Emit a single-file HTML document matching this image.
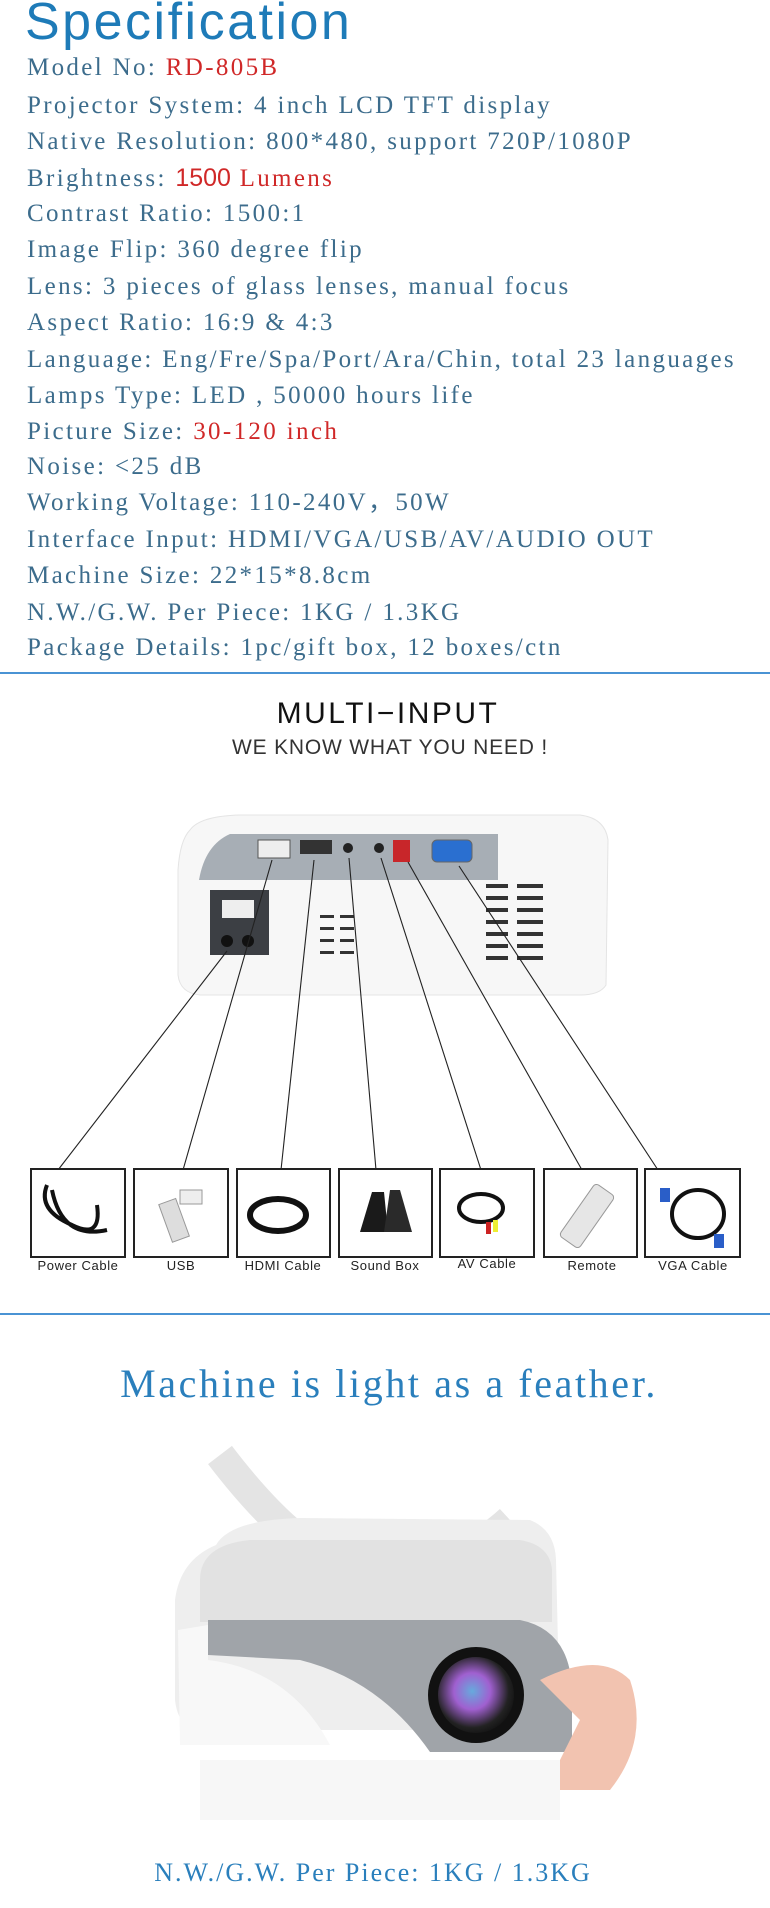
<!DOCTYPE html>
<html><head><meta charset="utf-8"><style>
*{margin:0;padding:0;box-sizing:border-box}
body{width:770px;height:1908px;background:#fff;position:relative;overflow:hidden;font-family:"Liberation Serif",serif}
.t{position:absolute;white-space:nowrap}
.spec{left:27px;font-size:25px;letter-spacing:2.35px;color:#3c6c8c;line-height:28px}
.r{color:#d02828}
.box{position:absolute;top:1168px;height:90px;border:2px solid #222;background:#fff}
.lbl{position:absolute;top:1258px;font-family:"Liberation Sans",sans-serif;font-size:13px;color:#222;letter-spacing:0.6px;text-align:center;width:110px}
</style></head><body>
<div class="t" style="left:25px;top:-8px;font-family:'Liberation Sans',sans-serif;font-size:52px;color:#1e7bb8;letter-spacing:2.5px">Specification</div>
<div class="t spec" style="top:54px">Model No: <span class="r">RD-805B</span></div>
<div class="t spec" style="top:92px">Projector System: 4 inch LCD TFT display</div>
<div class="t spec" style="top:128px">Native Resolution: 800*480, support 720P/1080P</div>
<div class="t spec" style="top:164px">Brightness: <span class="r" style="font-family:'Liberation Sans',sans-serif;letter-spacing:0">1500</span><span class="r"> Lumens</span></div>
<div class="t spec" style="top:200px">Contrast Ratio: 1500:1</div>
<div class="t spec" style="top:236px">Image Flip: 360 degree flip</div>
<div class="t spec" style="top:273px">Lens: 3 pieces of glass lenses, manual focus</div>
<div class="t spec" style="top:309px">Aspect Ratio: 16:9 &amp; 4:3</div>
<div class="t spec" style="top:346px">Language: Eng/Fre/Spa/Port/Ara/Chin, total 23 languages</div>
<div class="t spec" style="top:382px">Lamps Type: LED , 50000 hours life</div>
<div class="t spec" style="top:418px">Picture Size: <span class="r">30-120 inch</span></div>
<div class="t spec" style="top:453px">Noise: &lt;25 dB</div>
<div class="t spec" style="top:489px">Working Voltage: 110-240V，50W</div>
<div class="t spec" style="top:526px">Interface Input: HDMI/VGA/USB/AV/AUDIO OUT</div>
<div class="t spec" style="top:562px">Machine Size: 22*15*8.8cm</div>
<div class="t spec" style="top:599px">N.W./G.W. Per Piece: 1KG / 1.3KG</div>
<div class="t spec" style="top:634px">Package Details: 1pc/gift box, 12 boxes/ctn</div>
<div style="position:absolute;left:0;top:672px;width:770px;height:2px;background:#4a93d4"></div>

<div class="t" style="left:0;width:776px;text-align:center;top:697px;font-family:'Liberation Sans',sans-serif;font-size:30px;letter-spacing:2.5px;color:#111">MULTI−INPUT</div>
<div class="t" style="left:0;width:780px;text-align:center;top:736px;font-family:'Liberation Sans',sans-serif;font-size:21px;letter-spacing:0.8px;color:#333">WE KNOW WHAT YOU NEED !</div>

<svg style="position:absolute;left:0;top:800px" width="770" height="380" viewBox="0 800 770 380">
<path d="M190 830 Q200 816 240 815 L580 815 Q605 818 608 840 L606 985 Q600 995 580 995 L200 995 Q180 993 178 975 L178 870 Q180 840 190 830Z" fill="#f7f7f7" stroke="#e4e4e4"/>
<path d="M230 834 L498 834 L498 880 L199 880 Q205 845 230 834Z" fill="#a7aeb5"/>
<rect x="258" y="840" width="32" height="18" fill="#eee" stroke="#555"/>
<rect x="300" y="840" width="32" height="14" fill="#333"/>
<circle cx="348" cy="848" r="5" fill="#222"/>
<circle cx="379" cy="848" r="5" fill="#222"/>
<rect x="393" y="840" width="17" height="22" fill="#c8262a"/>
<rect x="432" y="840" width="40" height="22" rx="5" fill="#2a6fd0" stroke="#666"/>
<rect x="210" y="890" width="59" height="65" fill="#3c3f44"/>
<rect x="222" y="900" width="32" height="18" fill="#eee"/>
<circle cx="227" cy="941" r="6" fill="#111"/><circle cx="248" cy="941" r="6" fill="#111"/>
<g fill="#333">
<rect x="486" y="884" width="22" height="4"/><rect x="517" y="884" width="26" height="4"/>
<rect x="486" y="896" width="22" height="4"/><rect x="517" y="896" width="26" height="4"/>
<rect x="486" y="908" width="22" height="4"/><rect x="517" y="908" width="26" height="4"/>
<rect x="486" y="920" width="22" height="4"/><rect x="517" y="920" width="26" height="4"/>
<rect x="486" y="932" width="22" height="4"/><rect x="517" y="932" width="26" height="4"/>
<rect x="486" y="944" width="22" height="4"/><rect x="517" y="944" width="26" height="4"/>
<rect x="486" y="956" width="22" height="4"/><rect x="517" y="956" width="26" height="4"/>
<rect x="320" y="915" width="14" height="3"/><rect x="340" y="915" width="14" height="3"/>
<rect x="320" y="927" width="14" height="3"/><rect x="340" y="927" width="14" height="3"/>
<rect x="320" y="939" width="14" height="3"/><rect x="340" y="939" width="14" height="3"/>
<rect x="320" y="951" width="14" height="3"/><rect x="340" y="951" width="14" height="3"/>
</g>
<g stroke="#222" stroke-width="1.1">
<line x1="227" y1="951" x2="58" y2="1170"/>
<line x1="272" y1="860" x2="183" y2="1170"/>
<line x1="314" y1="860" x2="281" y2="1170"/>
<line x1="349" y1="858" x2="376" y2="1170"/>
<line x1="381" y1="858" x2="481" y2="1170"/>
<line x1="408" y1="862" x2="582" y2="1170"/>
<line x1="459" y1="866" x2="658" y2="1170"/>
</g>
</svg>

<div class="box" style="left:30px;width:96px"><svg width="92" height="86"><path d="M15 15 Q5 40 40 55 Q70 70 65 35 M20 20 Q30 70 75 60" stroke="#111" stroke-width="4" fill="none"/></svg></div>
<div class="box" style="left:133px;width:96px"><svg width="92" height="86"><rect x="30" y="30" width="18" height="40" fill="#ddd" stroke="#999" transform="rotate(-20 40 50)"/><rect x="45" y="20" width="22" height="14" fill="#eee" stroke="#999"/></svg></div>
<div class="box" style="left:236px;width:95px"><svg width="91" height="86"><ellipse cx="40" cy="45" rx="28" ry="16" stroke="#111" stroke-width="6" fill="none"/></svg></div>
<div class="box" style="left:338px;width:95px"><svg width="91" height="86"><polygon points="20,62 32,22 44,22 48,62" fill="#1a1a1a"/><polygon points="44,62 50,20 60,20 72,62" fill="#2a2a2a"/></svg></div>
<div class="box" style="left:439px;width:96px"><svg width="92" height="86"><ellipse cx="40" cy="38" rx="22" ry="14" stroke="#111" stroke-width="4" fill="none"/><rect x="45" y="52" width="5" height="12" fill="#c22"/><rect x="52" y="50" width="5" height="12" fill="#ee3"/></svg></div>
<div class="box" style="left:543px;width:95px"><svg width="91" height="86"><rect x="30" y="14" width="24" height="64" rx="4" fill="#e6e6e6" stroke="#999" transform="rotate(35 42 46)"/></svg></div>
<div class="box" style="left:644px;width:97px"><svg width="93" height="86"><ellipse cx="52" cy="44" rx="26" ry="24" stroke="#111" stroke-width="4" fill="none"/><rect x="14" y="18" width="10" height="14" fill="#2a5ec8"/><rect x="68" y="64" width="10" height="14" fill="#2a5ec8"/></svg></div>

<div class="lbl" style="left:23px">Power Cable</div>
<div class="lbl" style="left:126px">USB</div>
<div class="lbl" style="left:228px">HDMI Cable</div>
<div class="lbl" style="left:330px">Sound Box</div>
<div class="lbl" style="left:432px;top:1256px">AV Cable</div>
<div class="lbl" style="left:537px">Remote</div>
<div class="lbl" style="left:638px">VGA Cable</div>

<div style="position:absolute;left:0;top:1313px;width:770px;height:2px;background:#4a93d4"></div>

<div class="t" style="left:0;width:778px;text-align:center;top:1360px;font-size:40px;letter-spacing:2.6px;color:#2a7fbc">Machine is light as a feather.</div>

<svg style="position:absolute;left:0;top:1400px" width="770" height="450" viewBox="0 1400 770 450">
<defs><radialGradient id="lg" cx="0.45" cy="0.45" r="0.6"><stop offset="0" stop-color="#6ad"/><stop offset="0.4" stop-color="#a060d0"/><stop offset="0.8" stop-color="#222"/><stop offset="1" stop-color="#111"/></radialGradient></defs>
<path d="M220 1455 Q300 1560 360 1570 Q450 1575 510 1520" stroke="#e4e4e4" stroke-width="30" fill="none"/>
<path d="M216 1545 Q230 1520 300 1518 L530 1520 Q555 1530 556 1560 L560 1730 L200 1730 Q178 1728 175 1700 L175 1600 Q180 1560 216 1545Z" fill="#eeeeee"/>
<path d="M200 1580 Q200 1545 250 1540 L520 1540 Q550 1545 552 1570 L552 1622 L200 1622Z" fill="#e2e2e2"/>
<path d="M208 1620 L520 1620 Q570 1630 572 1690 L572 1752 L430 1752 Q380 1680 300 1660 L208 1655Z" fill="#a0a4a9"/>
<path d="M178 1630 L208 1625 L208 1660 Q290 1670 330 1745 L180 1745Z" fill="#f8f8f8"/>
<circle cx="476" cy="1695" r="48" fill="#111"/>
<circle cx="476" cy="1695" r="38" fill="url(#lg)"/>
<path d="M540 1680 Q600 1650 630 1680 Q650 1740 610 1790 L560 1790 Q545 1775 560 1760 L580 1720Z" fill="#f2c3b0"/>
<path d="M200 1760 L560 1760 L560 1820 L200 1820Z" fill="#f7f7f7"/>
</svg>

<div class="t" style="left:0;width:746px;text-align:center;top:1858px;font-size:26px;letter-spacing:2px;color:#2a7fbc">N.W./G.W. Per Piece: 1KG / 1.3KG</div>
</body></html>
